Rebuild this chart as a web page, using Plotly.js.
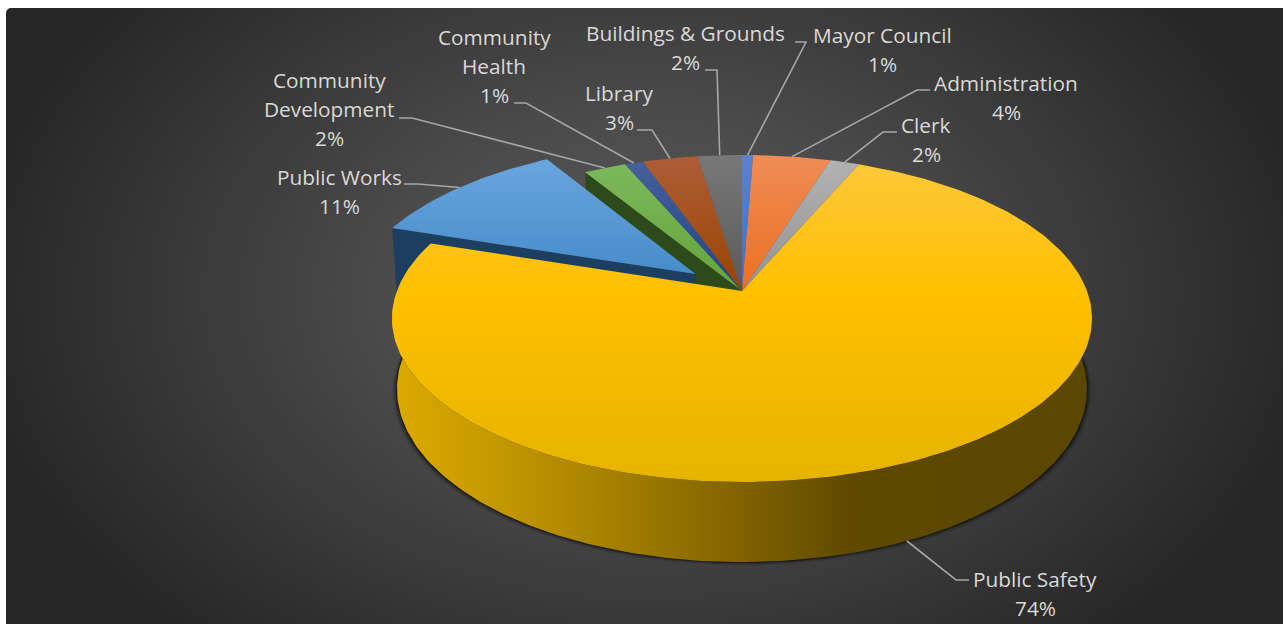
<!DOCTYPE html>
<html><head><meta charset="utf-8">
<script src="https://cdn.plot.ly/plotly-3.0.1.min.js"></script>
<style>
html,body{margin:0;padding:0;background:#fff;width:1283px;height:624px;overflow:hidden}
#bg{position:absolute;left:6px;top:8px;width:1277px;height:616px;border-top-left-radius:5px;
background:radial-gradient(ellipse 680px 470px at 640px 285px,#5a5a5a 0%,#4a4a4a 40%,#262626 100%)}
#chart{position:absolute;left:0;top:0;width:1283px;height:624px}
</style></head><body><div id="bg"></div><div id="chart"></div>
<script>
const categories=['Mayor Council','Administration','Clerk','Public Safety','Public Works','Community Development','Community Health','Library','Buildings & Grounds'];
const values=[0.6,4.2,1.6,73.7,11.2,2.3,1.0,3.0,2.4];
const labelLines=[['Mayor Council'],['Administration'],['Clerk'],['Public Safety'],['Public Works'],['Community','Development'],['Community','Health'],['Library'],['Buildings & Grounds']];
const topLight=['#5b82ce','#ee8c55','#b2b2b2','#fdc83a','#6aa5de','#7db85b','#46609a','#ad5e38','#787878'];
const topDark=['#3f70c8','#ec7022','#929292','#ffc000','#478ccb','#63a438','#1f4488','#9a4300','#595959'];
const labelCx=[882,1006,926,1035,339,329,494,619,685];
const labelTop=[35,83,125,579,177,80,37,93,33];
const elbow=[[806,42,795],[917,90,930],[883,132,897],[956,580,969],[418,184,404],[412,118,399],[526,103,514],[652,130,637],[717,70,705]];
const exploded=[0,0,0,0,0.175,0,0,0,0];

// perspective view of the pie
const CX=742,CY=291,A=345,C=158.9,K=0.168,D=70.4,M=0.014;
function proj(u,v,bottom){const z=bottom?1:0;const w=1+K*v+M*z;return [CX+A*u/w,CY-(C*v-D*z)/w];}
const total=values.reduce((a,b)=>a+b,0);
let acc=0;
const slices=values.map((v,i)=>{const a=acc/total*360;acc+=v;const b=acc/total*360;
  const mid=(a+b)/2*Math.PI/180;const e=exploded[i];
  return {a,b,ox:e*Math.sin(mid),oy:e*Math.cos(mid),mid:(a+b)/2};});
function rim(s,bottom,from,to){const pts=[];const n=Math.max(2,Math.ceil(Math.abs(to-from)));
  for(let k=0;k<=n;k++){const t=(from+(to-from)*k/n)*Math.PI/180;
    pts.push(proj(Math.sin(t)+s.ox,Math.cos(t)+s.oy,bottom));}return pts;}
function poly(pts,extra){return Object.assign({type:'scatter',mode:'lines',x:pts.map(p=>p[0]),y:pts.map(p=>p[1]),
  fill:'toself',line:{width:0},hoverinfo:'skip',showlegend:false},extra);}
function sector(i){const s=slices[i];return [proj(s.ox,s.oy,false),...rim(s,false,s.a,s.b),proj(s.ox,s.oy,false)];}
function topTrace(i){
  let cs=[[0,topDark[i]],[1,topLight[i]]];
  if(i===3)cs=[[0,'#e6b400'],[0.6,'#ffc000'],[1,'#fdc83a']];
  return poly(sector(i),{fillgradient:{type:'vertical',colorscale:cs},fillcolor:topDark[i]});
}
function cutFace(i,angle,color){const s=slices[i];
  const p=rim(s,false,angle,angle)[0],q=rim(s,true,angle,angle)[0];
  return poly([proj(s.ox,s.oy,false),p,q,proj(s.ox,s.oy,true)],{fillcolor:color});}

const traces=[];
// soft shadow under the base
const safety=slices[3];
[[5,0.07],[3.5,0.13],[2.2,0.22],[1,0.35]].forEach(([g,o])=>{
  const ring=rim(safety,true,60,300).map(p=>[CX+(p[0]-CX)*(1+g/345),CY+(p[1]-CY)*1+g*0.7]);
  traces.push(poly(ring,{fillcolor:`rgba(0,0,0,${o})`}));
});
// cut faces next to the pulled-out slice
traces.push(cutFace(5,slices[5].a,'#2c4a1a'));
traces.push(cutFace(4,slices[4].a,'#1c3f60'));
traces.push(topTrace(4));
// outer wall of the big slice
const wall=[...rim(safety,false,safety.a,safety.b),...rim(safety,true,safety.b,safety.a)];
traces.push(poly(wall,{fillcolor:'#8a6a00',fillgradient:{type:'horizontal',colorscale:[[0,'#dcaa00'],[0.12,'#c99c00'],[0.3,'#a88200'],[0.5,'#806200'],[0.66,'#5e4900'],[1,'#5a4700']]}}));
[5,6,7,8,0,1,2,3].forEach(i=>traces.push(topTrace(i)));

// leader lines, from the pie rim at each slice's mid angle
const lineColor='#a6a6a6';
const shapes=slices.map((s,i)=>{
  const bottom=i===3;const end=rim(s,bottom,s.mid,s.mid)[0];const [ex,ey,sx]=elbow[i];
  return {type:'path',xref:'x',yref:'y',path:`M${end[0]},${end[1]} L${ex},${ey} L${sx},${ey}`,line:{color:lineColor,width:1.6}};
});

const annotations=[];const lineGap=29;
categories.forEach((c,i)=>{
  const lines=[...labelLines[i],Math.round(values[i]/total*100)+'%'];
  lines.forEach((t,j)=>annotations.push({xref:'x',yref:'y',x:labelCx[i],y:labelTop[i]+j*lineGap,text:t,showarrow:false,
    xanchor:'center',yanchor:'middle',font:{family:'"Open Sans",sans-serif',size:20.8,color:'#d9d9d9'}}));
});

Plotly.newPlot('chart',traces,{width:1283,height:624,margin:{l:0,r:0,t:0,b:0},paper_bgcolor:'rgba(0,0,0,0)',plot_bgcolor:'rgba(0,0,0,0)',
  xaxis:{range:[0,1283],visible:false,fixedrange:true},yaxis:{range:[624,0],visible:false,fixedrange:true},
  showlegend:false,shapes,annotations},{displayModeBar:false,staticPlot:true});
</script></body></html>
